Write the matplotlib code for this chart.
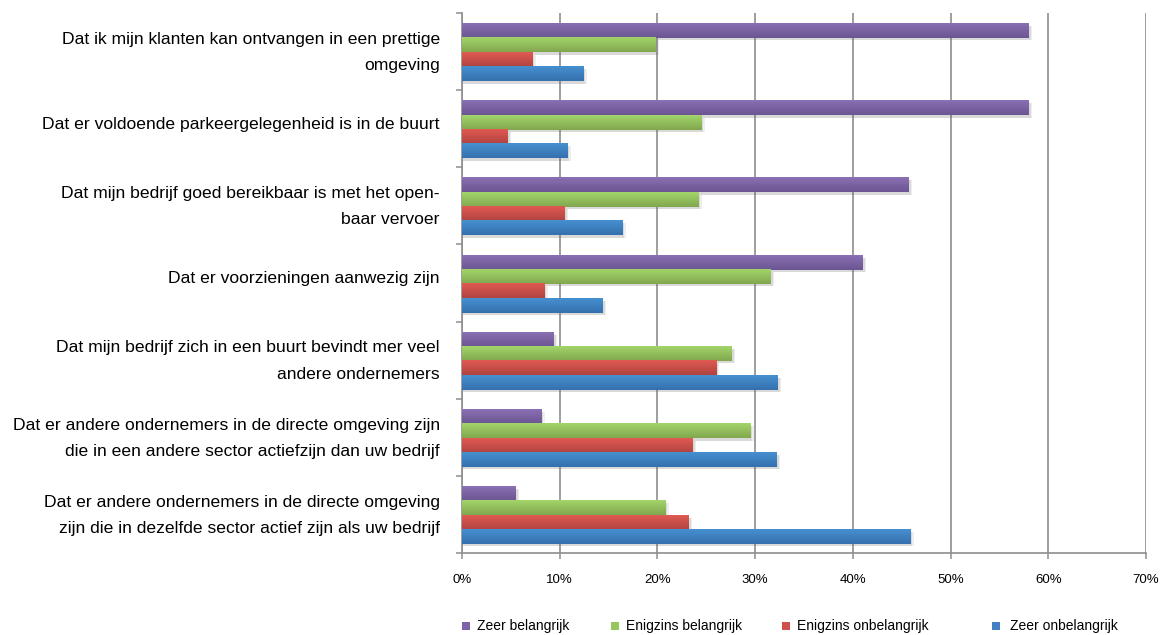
import matplotlib.pyplot as plt
import numpy as np
from matplotlib.colors import LinearSegmentedColormap
from matplotlib.patches import Rectangle

plt.rcParams['font.family'] = ['Liberation Sans', 'DejaVu Sans']

categories = [
    "Dat ik mijn klanten kan ontvangen in een prettige\nomgeving",
    "Dat er voldoende parkeergelegenheid is in de buurt",
    "Dat mijn bedrijf goed bereikbaar is met het open-\nbaar vervoer",
    "Dat er voorzieningen aanwezig zijn",
    "Dat mijn bedrijf zich in een buurt bevindt mer veel\nandere ondernemers",
    "Dat er andere ondernemers in de directe omgeving zijn\ndie in een andere sector actiefzijn dan uw bedrijf",
    "Dat er andere ondernemers in de directe omgeving\nzijn die in dezelfde sector actief zijn als uw bedrijf",
]
series = ["Zeer belangrijk", "Enigzins belangrijk", "Enigzins onbelangrijk", "Zeer onbelangrijk"]
zeer_belangrijk = [58.0, 58.0, 45.7, 41.0, 9.4, 8.1, 5.5]
enigzins_belangrijk = [19.8, 24.5, 24.2, 31.6, 27.6, 29.5, 20.8]
enigzins_onbelangrijk = [7.2, 4.7, 10.5, 8.4, 26.0, 23.6, 23.2]
zeer_onbelangrijk = [12.4, 10.8, 16.4, 14.4, 32.3, 32.2, 45.9]

values = [zeer_belangrijk, enigzins_belangrijk, enigzins_onbelangrijk, zeer_onbelangrijk]
# (top, bottom) shade of each bar's vertical gradient
shades = [("#8a70b4", "#6c5592"), ("#a2d46a", "#82a84e"),
          ("#e05a52", "#b04340"), ("#4690d0", "#3670ae")]
legend_colors = ["#7c62a8", "#94c85c", "#d2504b", "#4282c4"]

W, H = 1173, 635
fig = plt.figure(figsize=(W / 100, H / 100), dpi=100)
ax = fig.add_axes([462 / W, 1 - 553 / H, 684 / W, 540 / H])

bar_h = 0.186
y = np.arange(len(categories))
grad = np.linspace(0, 1, 32).reshape(-1, 1)

for k, (vals, (c_top, c_bot)) in enumerate(zip(values, shades)):
    cmap = LinearSegmentedColormap.from_list(series[k], [c_top, c_bot])
    offset = (k - 1.5) * bar_h + 0.012
    for yi, v in zip(y, vals):
        top = yi + offset - bar_h / 2
        bot = yi + offset + bar_h / 2
        # soft drop shadow
        for s, a in [(0.35, 0.10), (0.2, 0.14)]:
            ax.barh(yi + offset + 0.03, v + s, height=bar_h, color="#606060",
                    alpha=a, linewidth=0, zorder=2)
        ax.imshow(grad, cmap=cmap, aspect='auto', extent=(0, v, bot, top),
                  zorder=3, interpolation='bilinear')

ax.set_xlim(0, 70)
ax.set_ylim(len(categories) - 0.5, -0.5)

ax.set_xticks(np.arange(0, 71, 10))
ax.set_xticklabels([f"{t}%" for t in range(0, 71, 10)], fontsize=9.5)
# category labels sit a little above the group centre
ax.set_yticks(y - 0.08)
ax.set_yticklabels(categories, fontsize=12.6, linespacing=1.92)
ax.set_yticks(np.arange(-0.5, len(categories)), minor=True)

ax.tick_params(axis='y', which='major', length=0, pad=16)
ax.tick_params(axis='y', which='minor', length=4, width=1.1, color="#8e8e8e")
ax.tick_params(axis='x', length=4, width=1.1, color="#8e8e8e", pad=11)

ax.grid(axis='x', color="#8e8e8e", linewidth=1.2, zorder=1)
ax.set_axisbelow(True)
for side in ['top', 'right']:
    ax.spines[side].set_visible(False)
for side in ['left', 'bottom']:
    ax.spines[side].set_color("#8e8e8e")
    ax.spines[side].set_linewidth(1.2)

# legend row along the bottom edge
legend_x = [462, 611, 782, 992]
legend_gap = [15, 15, 15, 18]
for name, color, lx, gap in zip(series, legend_colors, legend_x, legend_gap):
    fig.patches.append(Rectangle((lx / W, 1 - 630 / H), 8 / W, 8 / H,
                                 transform=fig.transFigure, facecolor=color,
                                 edgecolor='none'))
    fig.text((lx + gap) / W, 1 - 626 / H, name, fontsize=10, va='center', ha='left')

fig.savefig("out.png", dpi=100)
